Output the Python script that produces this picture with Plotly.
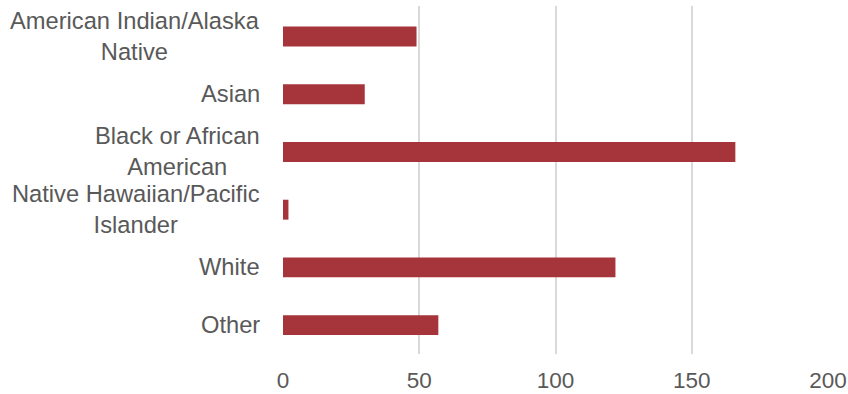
import plotly.graph_objects as go

categories = ["American Indian/Alaska<br>Native", "Asian", "Black or African<br>American",
              "Native Hawaiian/Pacific<br>Islander", "White", "Other"]
values = [49, 30, 166, 2, 122, 57]
tick_vals = [0, 50, 100, 150, 200]

bar_color = "#A5353B"
text_color = "#595959"
font_family = "Liberation Sans, Arial, sans-serif"

fig = go.Figure()
fig.add_trace(go.Bar(
    x=values, y=categories, orientation="h",
    marker=dict(color=bar_color, line=dict(width=0)),
))

for c in categories:
    fig.add_annotation(
        x=0, xref="paper", y=c, yref="y", text=c, showarrow=False,
        xanchor="right", yanchor="middle", align="center", xshift=-21,
        font=dict(family=font_family, size=23.7, color=text_color),
    )

fig.update_layout(
    width=848, height=394,
    margin=dict(l=283, r=20, t=6, b=40, autoexpand=False),
    plot_bgcolor="white", paper_bgcolor="white",
    bargap=0.655, showlegend=False,
    font=dict(family=font_family, size=22, color=text_color),
)
fig.update_xaxes(
    range=[0, 200], tickvals=tick_vals, showgrid=True, gridcolor="#D9D9D9", gridwidth=1.5,
    zeroline=False, showline=False, ticks="outside", ticklen=6, tickcolor="rgba(0,0,0,0)",
    tickfont=dict(family=font_family, size=22.5, color=text_color), automargin=False,
)
fig.update_yaxes(
    categoryorder="array", categoryarray=categories[::-1], automargin=False,
    showticklabels=False, showgrid=False, zeroline=False, showline=False,
)

fig.write_html("out.html", config={"displayModeBar": False},
               post_script="document.body.style.margin='0';document.body.style.overflow='hidden';")
